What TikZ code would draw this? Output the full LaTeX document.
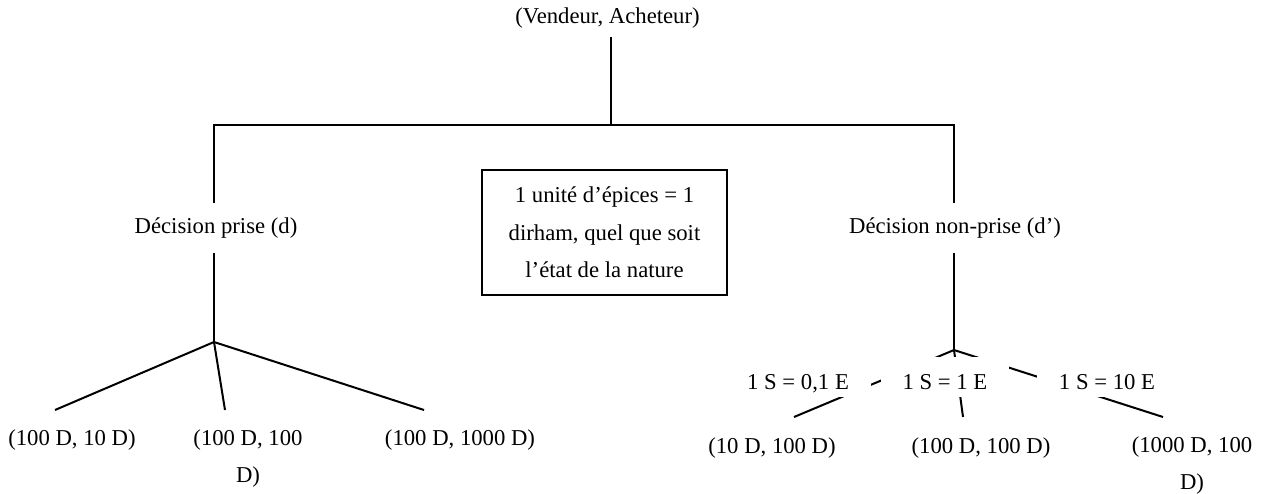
\documentclass[tikz,border=0pt]{standalone}
\usepackage{fontspec}
\setmainfont{Liberation Serif}
\usetikzlibrary{backgrounds}
\begin{document}
\begin{tikzpicture}[x=1pt,y=-1pt,
  lbl/.style={font=\fontsize{22.7}{37}\selectfont, inner sep=0pt},
  mask/.style={lbl, fill=white},
  state/.style={mask, text height=25pt, text depth=0pt, inner xsep=22pt, inner ysep=7.5pt, anchor=base},
  link/.style={line width=2pt, line join=miter},
  note/.style={draw, line width=2pt, inner sep=0pt, minimum width=245pt, minimum height=125pt,
    align=center, font=\fontsize{22.7}{37.5}\selectfont}]
\useasboundingbox (0,0) rectangle (1268,493);

% root of the tree and the two decisions
\node[lbl] (root) at (607.5,18.5) {(Vendeur, Acheteur)};
\coordinate (rootfoot) at (611,37);
\coordinate (hub) at (611,124.5);
\coordinate (lcorner) at (214,124.5);
\coordinate (rcorner) at (954,124.5);
\node[mask, minimum height=50pt] (dpos) at (216,228) {Décision prise (d)};
\node[mask, minimum height=50pt] (dneg) at (955,228) {Décision non-prise (d’)};

% remark in the middle
\node[note] (rule) at (604.5,232.5) {1 unité d’épices = 1\\dirham, quel que soit\\l’état de la nature};

% left branch: outcomes of the decision taken
\coordinate (ljunc) at (214,342);
\coordinate (l1) at (55,410);
\coordinate (l2) at (225,410);
\coordinate (l3) at (424,410);
\node[lbl] (o1) at (72,440) {(100 D, 10 D)};
\node[lbl, align=center, anchor=north] (o2) at (248,430) {(100 D, 100\\D)};
\node[lbl] (o3) at (460,440) {(100 D, 1000 D)};

% right branch: states of nature and outcomes
\coordinate (rjunc) at (954,350);
\coordinate (r1) at (794,417);
\coordinate (r2) at (963,417);
\coordinate (r3) at (1163,417);
\node[state] (s1) at (798,389.5) {1 S = 0,1 E};
\node[state] (s2) at (945,389.5) {1 S = 1 E};
\node[state] (s3) at (1107,389.5) {1 S = 10 E};
\node[lbl] (p1) at (772,448) {(10 D, 100 D)};
\node[lbl] (p2) at (981,448) {(100 D, 100 D)};
\node[lbl, align=center, anchor=north] (p3) at (1192,437) {(1000 D, 100\\D)};

% connectors, behind the labels
\begin{scope}[on background layer]
\begin{scope}[link]
  \draw (rootfoot) -- (hub);
  \draw (ljunc) -- (lcorner) -- (rcorner) -- (rjunc);
  \draw (ljunc) -- (l1);
  \draw (ljunc) -- (l2);
  \draw (ljunc) -- (l3);
  \draw (rjunc) -- (r1);
  \draw (rjunc) -- (r2);
  \draw (rjunc) -- (r3);
\end{scope}
\end{scope}
\end{tikzpicture}
\end{document}
